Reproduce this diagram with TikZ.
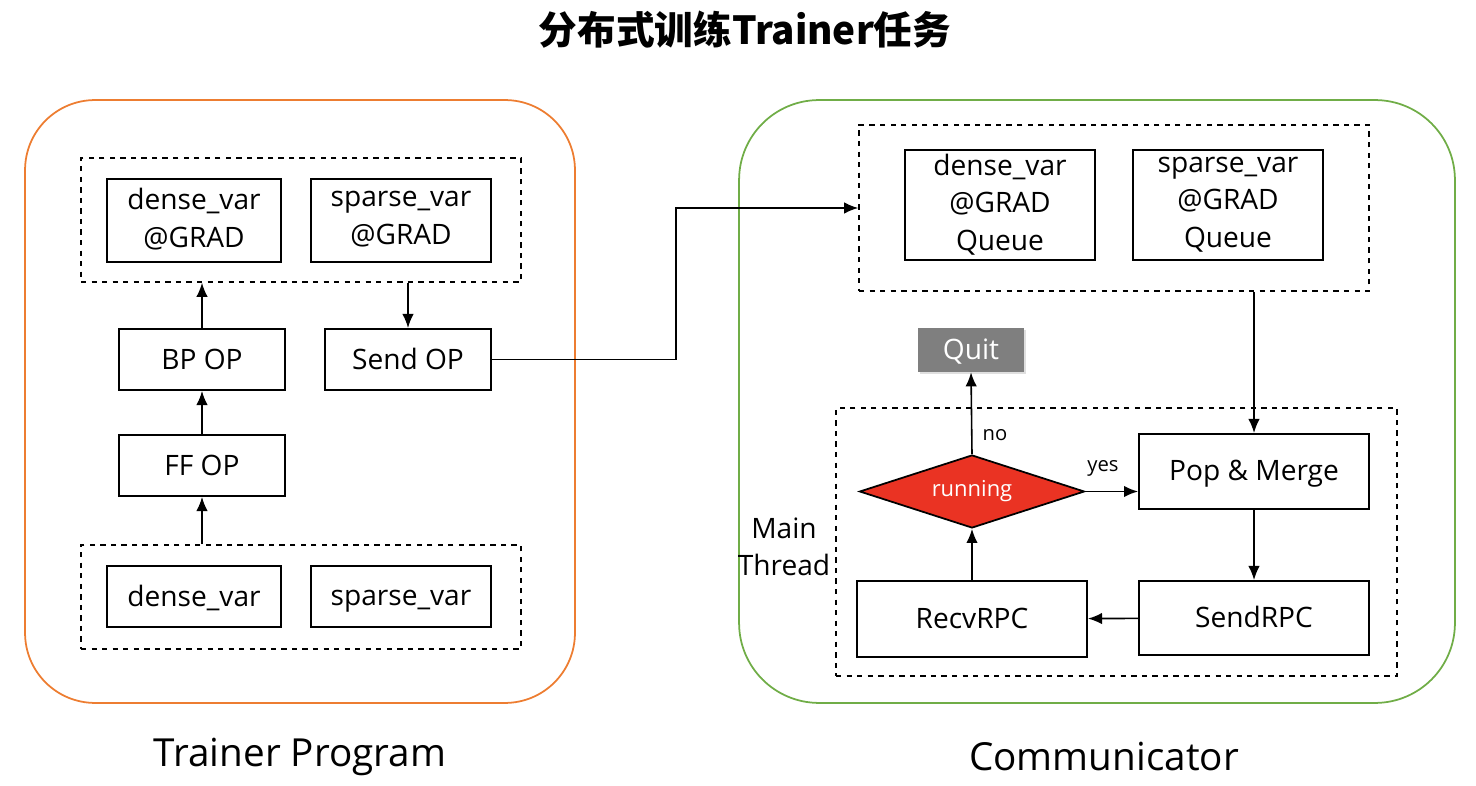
\documentclass[tikz,border=0pt]{standalone}
\usepackage{fontspec}
\setmainfont{Open Sans}
\newfontfamily\cjk{Noto Sans CJK SC}
\usepackage{tikz}
\usetikzlibrary{arrows.meta, positioning, shapes, shadows}

\definecolor{trainerc}{HTML}{ED7D31}
\definecolor{commc}{HTML}{70AD47}
\definecolor{runc}{HTML}{EA3323}
\definecolor{quitc}{HTML}{7F7F7F}

\newcommand\boxstrut{\rule[-0.2em]{0pt}{1.1em}}

\tikzset{
  opbox/.style   ={draw, rectangle, line width=1.1pt, align=center, font=\fontsize{16}{21.5}\selectfont, inner sep=0pt,
                   execute at begin node=\boxstrut, execute at end node=\boxstrut},
  groupbox/.style={draw, rectangle, dashed, line width=0.9pt, inner sep=0pt},
  link/.style    ={draw, -{Latex[length=8pt, width=6.5pt]}, line width=0.9pt},
}

\begin{document}
\begin{tikzpicture}[x=0.02cm, y=-0.02cm]

\useasboundingbox (0,0) rectangle (1476,786);

\node [font=\cjk\bfseries\fontsize{22}{26}\selectfont] (title) at (745,30) {分布式训练Trainer任务};

% trainer side
\node [draw=trainerc, line width=1pt, rounded corners=1.4cm, minimum width=11cm, minimum height=12.06cm] (trainer) at (300,401.5) {};
\node [groupbox, minimum width=8.8cm, minimum height=2.48cm] (gradgrp) at (301,220) {};
\node [groupbox, minimum width=8.8cm, minimum height=2.08cm] (vargrp)  at (301,597) {};

\node [opbox, minimum width=3.48cm, minimum height=1.66cm] (dgrad) at (194,220.5) {dense\_var\\@GRAD};
\node [opbox, minimum width=3.6cm , minimum height=1.66cm] (sgrad) at (401,220.5) {sparse\_var\\@GRAD};
\node [opbox, minimum width=3.32cm, minimum height=1.22cm] (bp)    at (202,359.5) {BP OP};
\node [opbox, minimum width=3.32cm, minimum height=1.22cm] (send)  at (408,359.5) {Send OP};
\node [opbox, minimum width=3.32cm, minimum height=1.22cm] (ff)    at (202,465.5) {FF OP};
\node [opbox, minimum width=3.48cm, minimum height=1.22cm] (dvar)  at (194,596.5) {dense\_var};
\node [opbox, minimum width=3.6cm , minimum height=1.22cm] (svar)  at (401,596.5) {sparse\_var};

\node [font=\fontsize{22}{26}\selectfont] (tcap) at (300,757) {Trainer Program};

% communicator side
\node [draw=commc, line width=1pt, rounded corners=1.6cm, minimum width=14.32cm, minimum height=12.06cm] (comm) at (1097,401.5) {};
\node [groupbox, minimum width=10.2cm , minimum height=3.32cm] (queuegrp) at (1114,208) {};
\node [groupbox, minimum width=11.22cm, minimum height=5.36cm] (maingrp)  at (1116.5,542) {};

\node [opbox, minimum width=3.8cm, minimum height=2.2cm] (dqueue) at (1000,205) {dense\_var\\@GRAD\\Queue};
\node [opbox, minimum width=3.8cm, minimum height=2.2cm] (squeue) at (1228,205) {sparse\_var\\@GRAD\\Queue};

\node [rectangle, fill=quitc, text=white, drop shadow={opacity=0.25, shadow xshift=1.2pt, shadow yshift=-1.2pt}, minimum width=2.12cm, minimum height=0.88cm, inner sep=0pt, font=\fontsize{16}{20}\selectfont, execute at begin node=\boxstrut] (quit) at (971,350) {Quit};
\node [diamond, draw, fill=runc, text=white, line width=1pt, aspect=3.1, inner sep=0pt, minimum width=4.5cm, minimum height=1.46cm, font=\fontsize{12.5}{15}\selectfont] (running) at (972,491.5) {running};

\node [opbox, minimum width=4.6cm, minimum height=1.5cm ] (merge)   at (1254,471.5) {Pop \& Merge};
\node [opbox, minimum width=4.6cm, minimum height=1.48cm] (sendrpc) at (1254,618)   {SendRPC};
\node [opbox, minimum width=4.6cm, minimum height=1.52cm] (recvrpc) at (972,619)    {RecvRPC};

\node [align=center, font=\fontsize{16}{21}\selectfont] (mainlbl) at (784,547) {Main\\Thread};
\node [font=\fontsize{11.5}{14}\selectfont] (nolbl)  at (995,435)  {no};
\node [font=\fontsize{11.5}{14}\selectfont] (yeslbl) at (1103,468) {yes};

\node [font=\fontsize{22}{26}\selectfont] (ccap) at (1104,757) {Communicator};

% connectors
\coordinate (bend) at (676,285);

\path [link] (vargrp.north -| ff.south) -- (ff.south);
\path [link] (ff) edge (bp);
\path [link] (bp.north) -- (bp.north |- gradgrp.south);
\path [link] (send.north |- gradgrp.south) -- (send.north);
\path [link] (send.east) -| (bend) |- (queuegrp.west);

\path [link] (merge.north |- queuegrp.south) -- (merge.north);
\path [link] (merge) edge (sendrpc);
\path [link] (sendrpc) edge (recvrpc);
\path [link] (recvrpc) edge (running);
\path [link] (running.north) -- (quit.south);
\path [link] (running.east) -- (merge.west |- running.east);

\end{tikzpicture}
\end{document}
